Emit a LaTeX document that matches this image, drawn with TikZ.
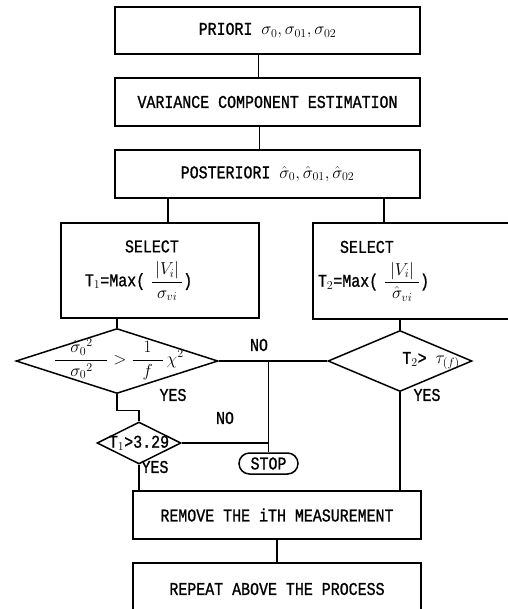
\documentclass[tikz,border=0pt]{standalone}
\usepackage{amsmath}
\usepackage{fontspec}
\setmainfont{Liberation Mono}[FakeStretch=0.83,FakeBold=1]
\usepackage{tikz}
\usetikzlibrary{shapes.geometric,shapes.misc}

\begin{document}
\begin{tikzpicture}[x=1pt,y=-1pt,line width=1.5pt,
  every node/.style={font=\fontsize{18}{21}\selectfont},
  blk/.style={draw,rectangle,inner sep=0pt},
  test/.style={draw,diamond,inner sep=0pt},
  txt/.style={inner sep=0pt}]
  \useasboundingbox (0,0) rectangle (507,609);

  \node[blk,minimum width=305pt,minimum height=47pt] (prior) at (267.5,30.5)
    {PRIORI $\sigma_0,\sigma_{01},\sigma_{02}$};
  \node[blk,minimum width=305pt,minimum height=48pt] (vce) at (267.5,102)
    {VARIANCE COMPONENT ESTIMATION};
  \node[blk,minimum width=305pt,minimum height=48pt] (post) at (267.5,174)
    {POSTERIORI $\hat\sigma_0,\hat\sigma_{01},\hat\sigma_{02}$};

  \node[blk,minimum height=95pt,text width=150pt,inner xsep=24pt,align=left] (sel1) at (160,270.5)
    {\hspace*{40pt}SELECT\\[8pt]T$_1$=Max( $\dfrac{\,|V_i|\,}{\sigma_{vi}}$)};
  \node[blk,minimum height=96pt,text width=190pt,inner xsep=5pt,align=left] (sel2) at (413,271)
    {\hspace*{22pt}SELECT\\[8pt]T$_2$=Max( $\dfrac{\;|V_i|\;}{\hat\sigma_{vi}}$)};

  \node[test,minimum width=202pt,minimum height=65pt] (chk1) at (117,361) {};
  \node[txt] (chk1t) at (119,359)
    {$\dfrac{\makebox[52pt]{$\hat\sigma_0{}^2$}}{\sigma_0{}^2} > \dfrac{\makebox[30pt]{$1$}}{f}\,\chi^2$};
  \node[test,minimum width=144pt,minimum height=61pt] (chk2) at (400,361) {};
  \node[txt] (chk2t) at (431,361) {T$_2$> $\tau_{(f)}$};
  \node[test,minimum width=84pt,minimum height=42pt] (chk3) at (139,443) {};
  \node[txt] (chk3t) at (chk3) {T$_1$>3.29};

  \node[draw,rounded rectangle,minimum width=59pt,minimum height=21pt,inner sep=0pt] (stop) at (268.5,463.5) {STOP};

  \node[blk,minimum width=288pt,minimum height=48pt] (remove) at (277,515)
    {REMOVE THE iTH MEASUREMENT};
  \node[blk,minimum width=288pt,minimum height=52pt] (again) at (277,589)
    {REPEAT ABOVE THE PROCESS};

  \node[txt] (no1) at (259,345) {NO};
  \node[txt] (no2) at (225,418) {NO};
  \node[txt] (yes1) at (173,395) {YES};
  \node[txt] (yes2) at (155,467) {YES};
  \node[txt] (yes3) at (427,395) {YES};

  \draw
  ([xshift=-9pt]prior.south) -- ([xshift=-9pt]vce.north)
  ([xshift=-8pt]vce.south) -- ([xshift=-8pt]post.north)
  ([xshift=8pt]sel1.north |- post.south) -- ([xshift=8pt]sel1.north)
  ([xshift=-29pt]sel2.north |- post.south) -- ([xshift=-29pt]sel2.north)
  (chk1.north |- sel1.south) -- (chk1.north)
  (chk2.north |- sel2.south) -- (chk2.north)
  ;

  \draw
  (chk1.east) -- (chk2.west)
  (stop.north |- chk1.east) -- (stop.north)
  (chk3.east) -- (stop.north |- chk3.east)
  (chk1.south) -- ++(0,16) -| (chk3.north)
  (chk3.south) -- (chk3.south |- remove.north)
  (chk2.south) -- (chk2.south |- remove.north)
  (remove.south) -- (again.north)
  ;
\end{tikzpicture}
\end{document}
